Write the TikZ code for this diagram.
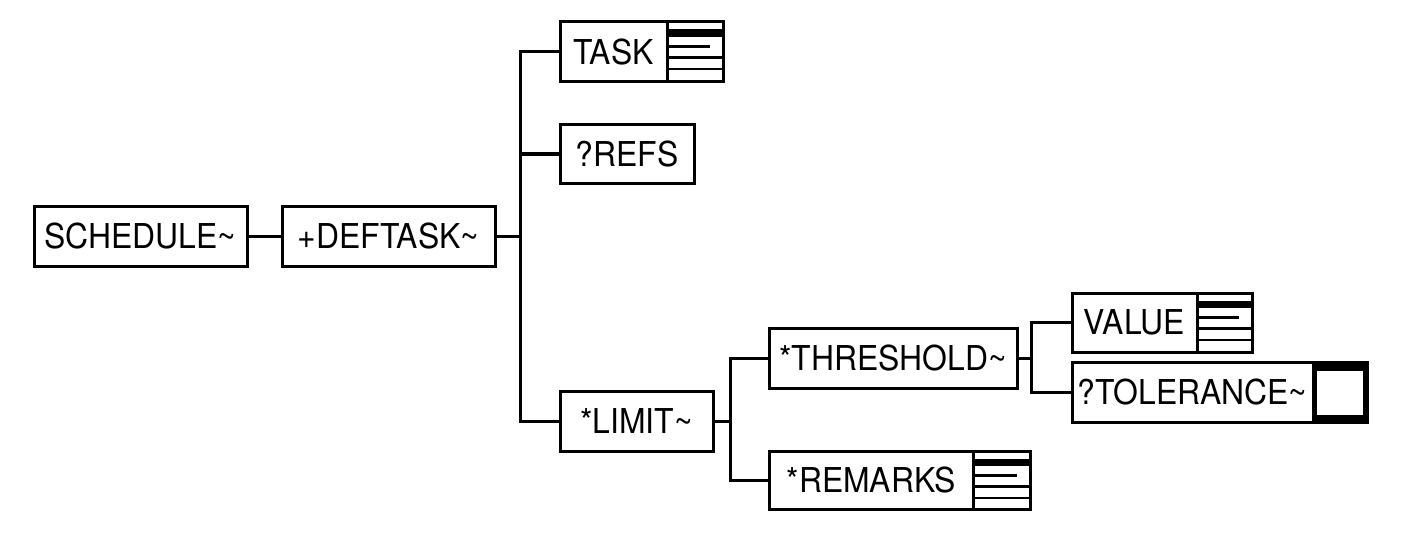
\documentclass[tikz,border=0pt]{standalone}
\usepackage{fontspec}
\setmainfont[FakeStretch=0.93]{TeX Gyre Heros}
\usetikzlibrary{positioning, calc}
\tikzset
{%
box/.style={draw, line width=0.6mm, inner sep=0pt, outer sep=0pt, minimum height=12mm, font=\fontsize{19.5}{20}\selectfont},
listicon/.style={box, path picture={
	\coordinate (nw) at (path picture bounding box.north west);
	\coordinate (ne) at (path picture bounding box.north east);
	\fill ($(nw)+(0,-1.5mm)$) rectangle ($(ne)+(0,-3mm)$);
	\draw[line width=0.5mm] ($(nw)+(0,-4.9mm)$) -- ($(ne)+(-2.6mm,-4.9mm)$)
	($(nw)+(0,-7.1mm)$) -- ($(ne)+(0,-7.1mm)$)
	($(nw)+(0,-9.4mm)$) -- ($(ne)+(0,-9.4mm)$);
}},
tolicon/.style={box, path picture={
	\fill (path picture bounding box.south west) rectangle (path picture bounding box.north east);
	\fill[white] ($(path picture bounding box.north west)+(0.8mm,-1.6mm)$) rectangle ($(path picture bounding box.south east)+(-0.8mm,1.6mm)$);
}},
link/.style={line width=0.6mm}
}
\begin{document}
\begin{tikzpicture}[x=0.2mm, y=-0.2mm]
	\useasboundingbox (0,0) rectangle (1403,542);
	
	% root
	\node[box, anchor=west, minimum width=42.6mm] (schedule) at (34,236) {SCHEDULE\textasciitilde};
	\node[box, minimum width=42.6mm, right=7mm of schedule] (deftask) {+DEFTASK\textasciitilde};
	
	% children of DEFTASK
	\node[box, anchor=west, minimum width=21.4mm] (task) at (560,52) {TASK};
	\node[listicon, minimum width=11.2mm, right=0pt of task] (taski) {};
	\node[box, anchor=west, minimum width=26.8mm, minimum height=11.6mm] (refs) at (560,154) {?REFS};
	\node[box, anchor=west, minimum width=30.6mm] (limit) at (560,421.5) {*LIMIT\textasciitilde};
	
	% children of LIMIT
	\node[box, anchor=west, minimum width=49.6mm] (threshold) at (769,358.5) {*THRESHOLD\textasciitilde};
	\node[box, anchor=west, minimum width=40.8mm, minimum height=11.6mm] (remarks) at (769,480) {*REMARKS};
	\node[listicon, minimum width=11.4mm, minimum height=11.6mm, right=0pt of remarks] (remarksi) {};
	
	% children of THRESHOLD
	\node[box, anchor=west, minimum width=25mm, minimum height=11.8mm] (value) at (1072,322.5) {VALUE};
	\node[listicon, minimum width=11mm, minimum height=11.8mm, right=0pt of value] (valuei) {};
	\node[box, anchor=west, minimum width=48.2mm] (tolerance) at (1072,392.5) {?TOLERANCE\textasciitilde};
	\node[tolicon, minimum width=10.8mm, right=0pt of tolerance] (tolerancei) {};
	
	\draw[link] (schedule) -- (deftask);
	\draw[link] (deftask.east) -- ++(25,0) coordinate (bus1)
	(bus1) |- (task.west) (bus1) |- (refs.west) (bus1) |- (limit.west);
	\draw[link] (limit.east) -- ++(17,0) coordinate (bus2)
	(bus2) |- (threshold.west) (bus2) |- (remarks.west);
	\draw[link] (threshold.east) -- ++(14,0) coordinate (bus3)
	(bus3) |- (value.west) (bus3) |- (tolerance.west);
\end{tikzpicture}
\end{document}
